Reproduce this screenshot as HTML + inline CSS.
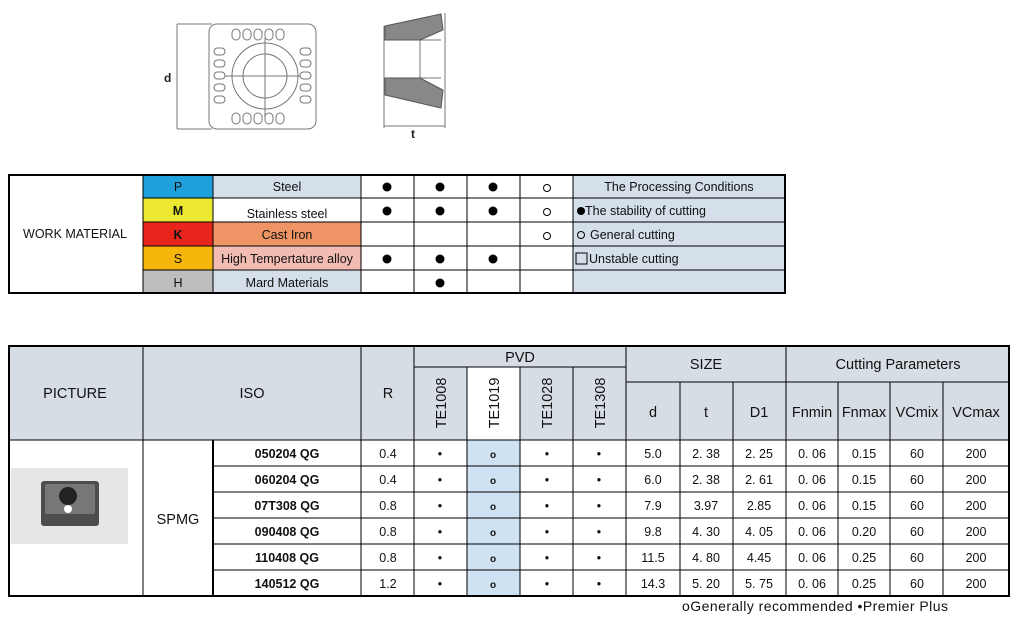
<!DOCTYPE html>
<html><head><meta charset="utf-8"><style>
body{margin:0;background:#fff;}
svg{display:block;font-family:"Liberation Sans",Arial,sans-serif;}
</style></head><body>
<svg width="1020" height="628" viewBox="0 0 1020 628" xmlns="http://www.w3.org/2000/svg">
<!-- top drawings -->
<g stroke="#777" fill="none" stroke-width="1">
<line x1="177" y1="24" x2="177" y2="129"/>
<line x1="177" y1="24" x2="212" y2="24"/>
<line x1="177" y1="129" x2="212" y2="129"/>
<rect x="209" y="24" width="107" height="105" rx="8"/>
<circle cx="265" cy="76" r="33"/>
<circle cx="265" cy="76" r="22"/>
<line x1="225" y1="76" x2="305" y2="76"/>
<line x1="265" y1="38" x2="265" y2="117"/>
<g fill="#fff">
<rect x="232" y="29" width="8" height="11" rx="4"/><rect x="243" y="29" width="8" height="11" rx="4"/><rect x="254" y="29" width="8" height="11" rx="4"/><rect x="265" y="29" width="8" height="11" rx="4"/><rect x="276" y="29" width="8" height="11" rx="4"/>
<rect x="232" y="113" width="8" height="11" rx="4"/><rect x="243" y="113" width="8" height="11" rx="4"/><rect x="254" y="113" width="8" height="11" rx="4"/><rect x="265" y="113" width="8" height="11" rx="4"/><rect x="276" y="113" width="8" height="11" rx="4"/>
<rect x="214" y="48" width="11" height="7" rx="3.5"/><rect x="214" y="60" width="11" height="7" rx="3.5"/><rect x="214" y="72" width="11" height="7" rx="3.5"/><rect x="214" y="84" width="11" height="7" rx="3.5"/><rect x="214" y="96" width="11" height="7" rx="3.5"/>
<rect x="300" y="48" width="11" height="7" rx="3.5"/><rect x="300" y="60" width="11" height="7" rx="3.5"/><rect x="300" y="72" width="11" height="7" rx="3.5"/><rect x="300" y="84" width="11" height="7" rx="3.5"/><rect x="300" y="96" width="11" height="7" rx="3.5"/>
</g>
<line x1="384" y1="26" x2="384" y2="128"/>
<line x1="445" y1="13" x2="445" y2="128"/>
<line x1="384" y1="126" x2="445" y2="126"/>
<line x1="387" y1="40" x2="441" y2="40"/>
<line x1="387" y1="78" x2="441" y2="78"/>
<line x1="420" y1="40" x2="420" y2="78"/>
</g>
<path d="M385 26 L441 14 L443 30 L420 40 L385 40 Z" fill="#888" stroke="#555"/>
<path d="M385 78 L420 78 L443 90 L441 108 L385 95 Z" fill="#888" stroke="#555"/>
<text x="164" y="82" font-size="12" font-weight="bold" fill="#222">d</text>
<text x="411" y="138" font-size="12" font-weight="bold" fill="#222">t</text>

<!-- table 1 -->
<g font-size="12.5" text-anchor="middle" fill="#111">
<rect x="143" y="174" width="70" height="24" fill="#1fa2dc"/>
<rect x="143" y="198" width="70" height="24" fill="#ece832"/>
<rect x="143" y="222" width="70" height="24" fill="#e8251c"/>
<rect x="143" y="246" width="70" height="24" fill="#f6b50a"/>
<rect x="143" y="270" width="70" height="24" fill="#bdbdbd"/>
<rect x="213" y="174" width="148" height="24" fill="#d4dfea"/>
<rect x="213" y="222" width="148" height="24" fill="#ef9565"/>
<rect x="213" y="246" width="148" height="24" fill="#f3bcb3"/>
<rect x="213" y="270" width="148" height="24" fill="#d4dfea"/>
<rect x="573" y="174" width="213" height="120" fill="#d4dfea"/>
<g stroke="#000" stroke-width="1">
<line x1="143" y1="198" x2="786" y2="198"/><line x1="143" y1="222" x2="786" y2="222"/><line x1="143" y1="246" x2="786" y2="246"/><line x1="143" y1="270" x2="786" y2="270"/>
<line x1="143" y1="174" x2="143" y2="294"/><line x1="213" y1="174" x2="213" y2="294"/><line x1="361" y1="174" x2="361" y2="294"/><line x1="414" y1="174" x2="414" y2="294"/><line x1="467" y1="174" x2="467" y2="294"/><line x1="520" y1="174" x2="520" y2="294"/><line x1="573" y1="174" x2="573" y2="294"/>
</g>
<rect x="9" y="175" width="776" height="118" fill="none" stroke="#000" stroke-width="2"/>
<text x="75" y="238">WORK MATERIAL</text>
<text x="178" y="191">P</text><text x="178" y="215" font-weight="bold">M</text><text x="178" y="239" font-weight="bold">K</text><text x="178" y="263">S</text><text x="178" y="287">H</text>
<text x="287" y="191">Steel</text><text x="287" y="218">Stainless steel</text><text x="287" y="239">Cast Iron</text><text x="287" y="263">High Tempertature alloy</text><text x="287" y="287">Mard Materials</text>
<g fill="#000">
<circle cx="387" cy="187" r="4.5"/><circle cx="440" cy="187" r="4.5"/><circle cx="493" cy="187" r="4.5"/>
<circle cx="387" cy="211" r="4.5"/><circle cx="440" cy="211" r="4.5"/><circle cx="493" cy="211" r="4.5"/>
<circle cx="387" cy="259" r="4.5"/><circle cx="440" cy="259" r="4.5"/><circle cx="493" cy="259" r="4.5"/>
<circle cx="440" cy="283" r="4.5"/>
</g>
<g fill="none" stroke="#000"><circle cx="547" cy="188" r="3.5"/><circle cx="547" cy="212" r="3.5"/><circle cx="547" cy="236" r="3.5"/></g>
<text x="679" y="191">The Processing Conditions</text>
<g text-anchor="start">
<circle cx="581" cy="211" r="4" fill="#000"/><text x="585" y="215">The stability of cutting</text>
<circle cx="581" cy="235" r="3.5" fill="none" stroke="#000"/><text x="590" y="239">General cutting</text>
<rect x="576" y="253" width="11" height="11" fill="none" stroke="#000"/><text x="589" y="263">Unstable cutting</text>
</g>
</g>

<!-- table 2 -->
<g font-size="14.5" text-anchor="middle" fill="#111">
<rect x="8" y="345" width="1002" height="95" fill="#d6dde4"/>
<rect x="467" y="367" width="53" height="73" fill="#fff"/>
<rect x="467" y="440" width="53" height="156" fill="#cfe2f3"/>
<rect x="11" y="468" width="117" height="76" fill="#e6e6e6"/>
<rect x="41" y="481" width="58" height="45" rx="3" fill="#4d4d4d"/>
<rect x="45" y="484" width="50" height="30" rx="2" fill="#777"/>
<circle cx="68" cy="496" r="9" fill="#222"/>
<circle cx="68" cy="509" r="4" fill="#fff"/>
<g stroke="#000" stroke-width="1">
<line x1="414" y1="367" x2="626" y2="367"/><line x1="626" y1="382" x2="1010" y2="382"/>
<line x1="143" y1="345" x2="143" y2="597"/><line x1="213" y1="440" x2="213" y2="597" stroke-width="2"/>
<line x1="361" y1="345" x2="361" y2="597"/><line x1="414" y1="345" x2="414" y2="597"/>
<line x1="467" y1="367" x2="467" y2="597"/><line x1="520" y1="367" x2="520" y2="597"/><line x1="573" y1="367" x2="573" y2="597"/>
<line x1="626" y1="345" x2="626" y2="597"/><line x1="680" y1="382" x2="680" y2="597"/><line x1="733" y1="382" x2="733" y2="597"/>
<line x1="786" y1="345" x2="786" y2="597"/><line x1="838" y1="382" x2="838" y2="597"/><line x1="890" y1="382" x2="890" y2="597"/><line x1="943" y1="382" x2="943" y2="597"/>
<line x1="8" y1="440" x2="1010" y2="440"/>
<line x1="213" y1="466" x2="1010" y2="466"/><line x1="213" y1="492" x2="1010" y2="492"/><line x1="213" y1="518" x2="1010" y2="518"/><line x1="213" y1="544" x2="1010" y2="544"/><line x1="213" y1="570" x2="1010" y2="570"/>
</g>
<rect x="9" y="346" width="1000" height="250" fill="none" stroke="#000" stroke-width="2"/>
<text x="75" y="398">PICTURE</text><text x="252" y="398">ISO</text><text x="388" y="398">R</text>
<text x="520" y="362">PVD</text><text x="706" y="369">SIZE</text><text x="898" y="369">Cutting Parameters</text>
<g transform="rotate(-90)">
<text x="-403" y="446">TE1008</text><text x="-403" y="499">TE1019</text><text x="-403" y="552">TE1028</text><text x="-403" y="605">TE1308</text>
</g>
<text x="653" y="417">d</text><text x="706" y="417">t</text><text x="759" y="417">D1</text>
<text x="812" y="417">Fnmin</text><text x="864" y="417">Fnmax</text><text x="917" y="417">VCmix</text><text x="976" y="417">VCmax</text>
<text x="178" y="524">SPMG</text>
</g>
<g font-size="12.5" text-anchor="middle" fill="#111">
<g font-weight="bold">
<text x="287" y="458">050204 QG</text><text x="287" y="484">060204 QG</text><text x="287" y="510">07T308 QG</text><text x="287" y="536">090408 QG</text><text x="287" y="562">110408 QG</text><text x="287" y="588">140512 QG</text>
</g>
<text x="388" y="458">0.4</text><text x="388" y="484">0.4</text><text x="388" y="510">0.8</text><text x="388" y="536">0.8</text><text x="388" y="562">0.8</text><text x="388" y="588">1.2</text>
<g>
<text x="440" y="458">•</text><text x="547" y="458">•</text><text x="599" y="458">•</text><text x="493" y="458" font-size="10" font-weight="bold">o</text>
<text x="440" y="484">•</text><text x="547" y="484">•</text><text x="599" y="484">•</text><text x="493" y="484" font-size="10" font-weight="bold">o</text>
<text x="440" y="510">•</text><text x="547" y="510">•</text><text x="599" y="510">•</text><text x="493" y="510" font-size="10" font-weight="bold">o</text>
<text x="440" y="536">•</text><text x="547" y="536">•</text><text x="599" y="536">•</text><text x="493" y="536" font-size="10" font-weight="bold">o</text>
<text x="440" y="562">•</text><text x="547" y="562">•</text><text x="599" y="562">•</text><text x="493" y="562" font-size="10" font-weight="bold">o</text>
<text x="440" y="588">•</text><text x="547" y="588">•</text><text x="599" y="588">•</text><text x="493" y="588" font-size="10" font-weight="bold">o</text>
</g>
<text x="653" y="458">5.0</text><text x="706" y="458">2. 38</text><text x="759" y="458">2. 25</text><text x="812" y="458">0. 06</text><text x="864" y="458">0.15</text><text x="917" y="458">60</text><text x="976" y="458">200</text>
<text x="653" y="484">6.0</text><text x="706" y="484">2. 38</text><text x="759" y="484">2. 61</text><text x="812" y="484">0. 06</text><text x="864" y="484">0.15</text><text x="917" y="484">60</text><text x="976" y="484">200</text>
<text x="653" y="510">7.9</text><text x="706" y="510">3.97</text><text x="759" y="510">2.85</text><text x="812" y="510">0. 06</text><text x="864" y="510">0.15</text><text x="917" y="510">60</text><text x="976" y="510">200</text>
<text x="653" y="536">9.8</text><text x="706" y="536">4. 30</text><text x="759" y="536">4. 05</text><text x="812" y="536">0. 06</text><text x="864" y="536">0.20</text><text x="917" y="536">60</text><text x="976" y="536">200</text>
<text x="653" y="562">11.5</text><text x="706" y="562">4. 80</text><text x="759" y="562">4.45</text><text x="812" y="562">0. 06</text><text x="864" y="562">0.25</text><text x="917" y="562">60</text><text x="976" y="562">200</text>
<text x="653" y="588">14.3</text><text x="706" y="588">5. 20</text><text x="759" y="588">5. 75</text><text x="812" y="588">0. 06</text><text x="864" y="588">0.25</text><text x="917" y="588">60</text><text x="976" y="588">200</text>
</g>
<text x="682" y="611" font-size="14" fill="#111" textLength="266" lengthAdjust="spacing">oGenerally recommended  •Premier Plus</text>
</svg>
</body></html>
